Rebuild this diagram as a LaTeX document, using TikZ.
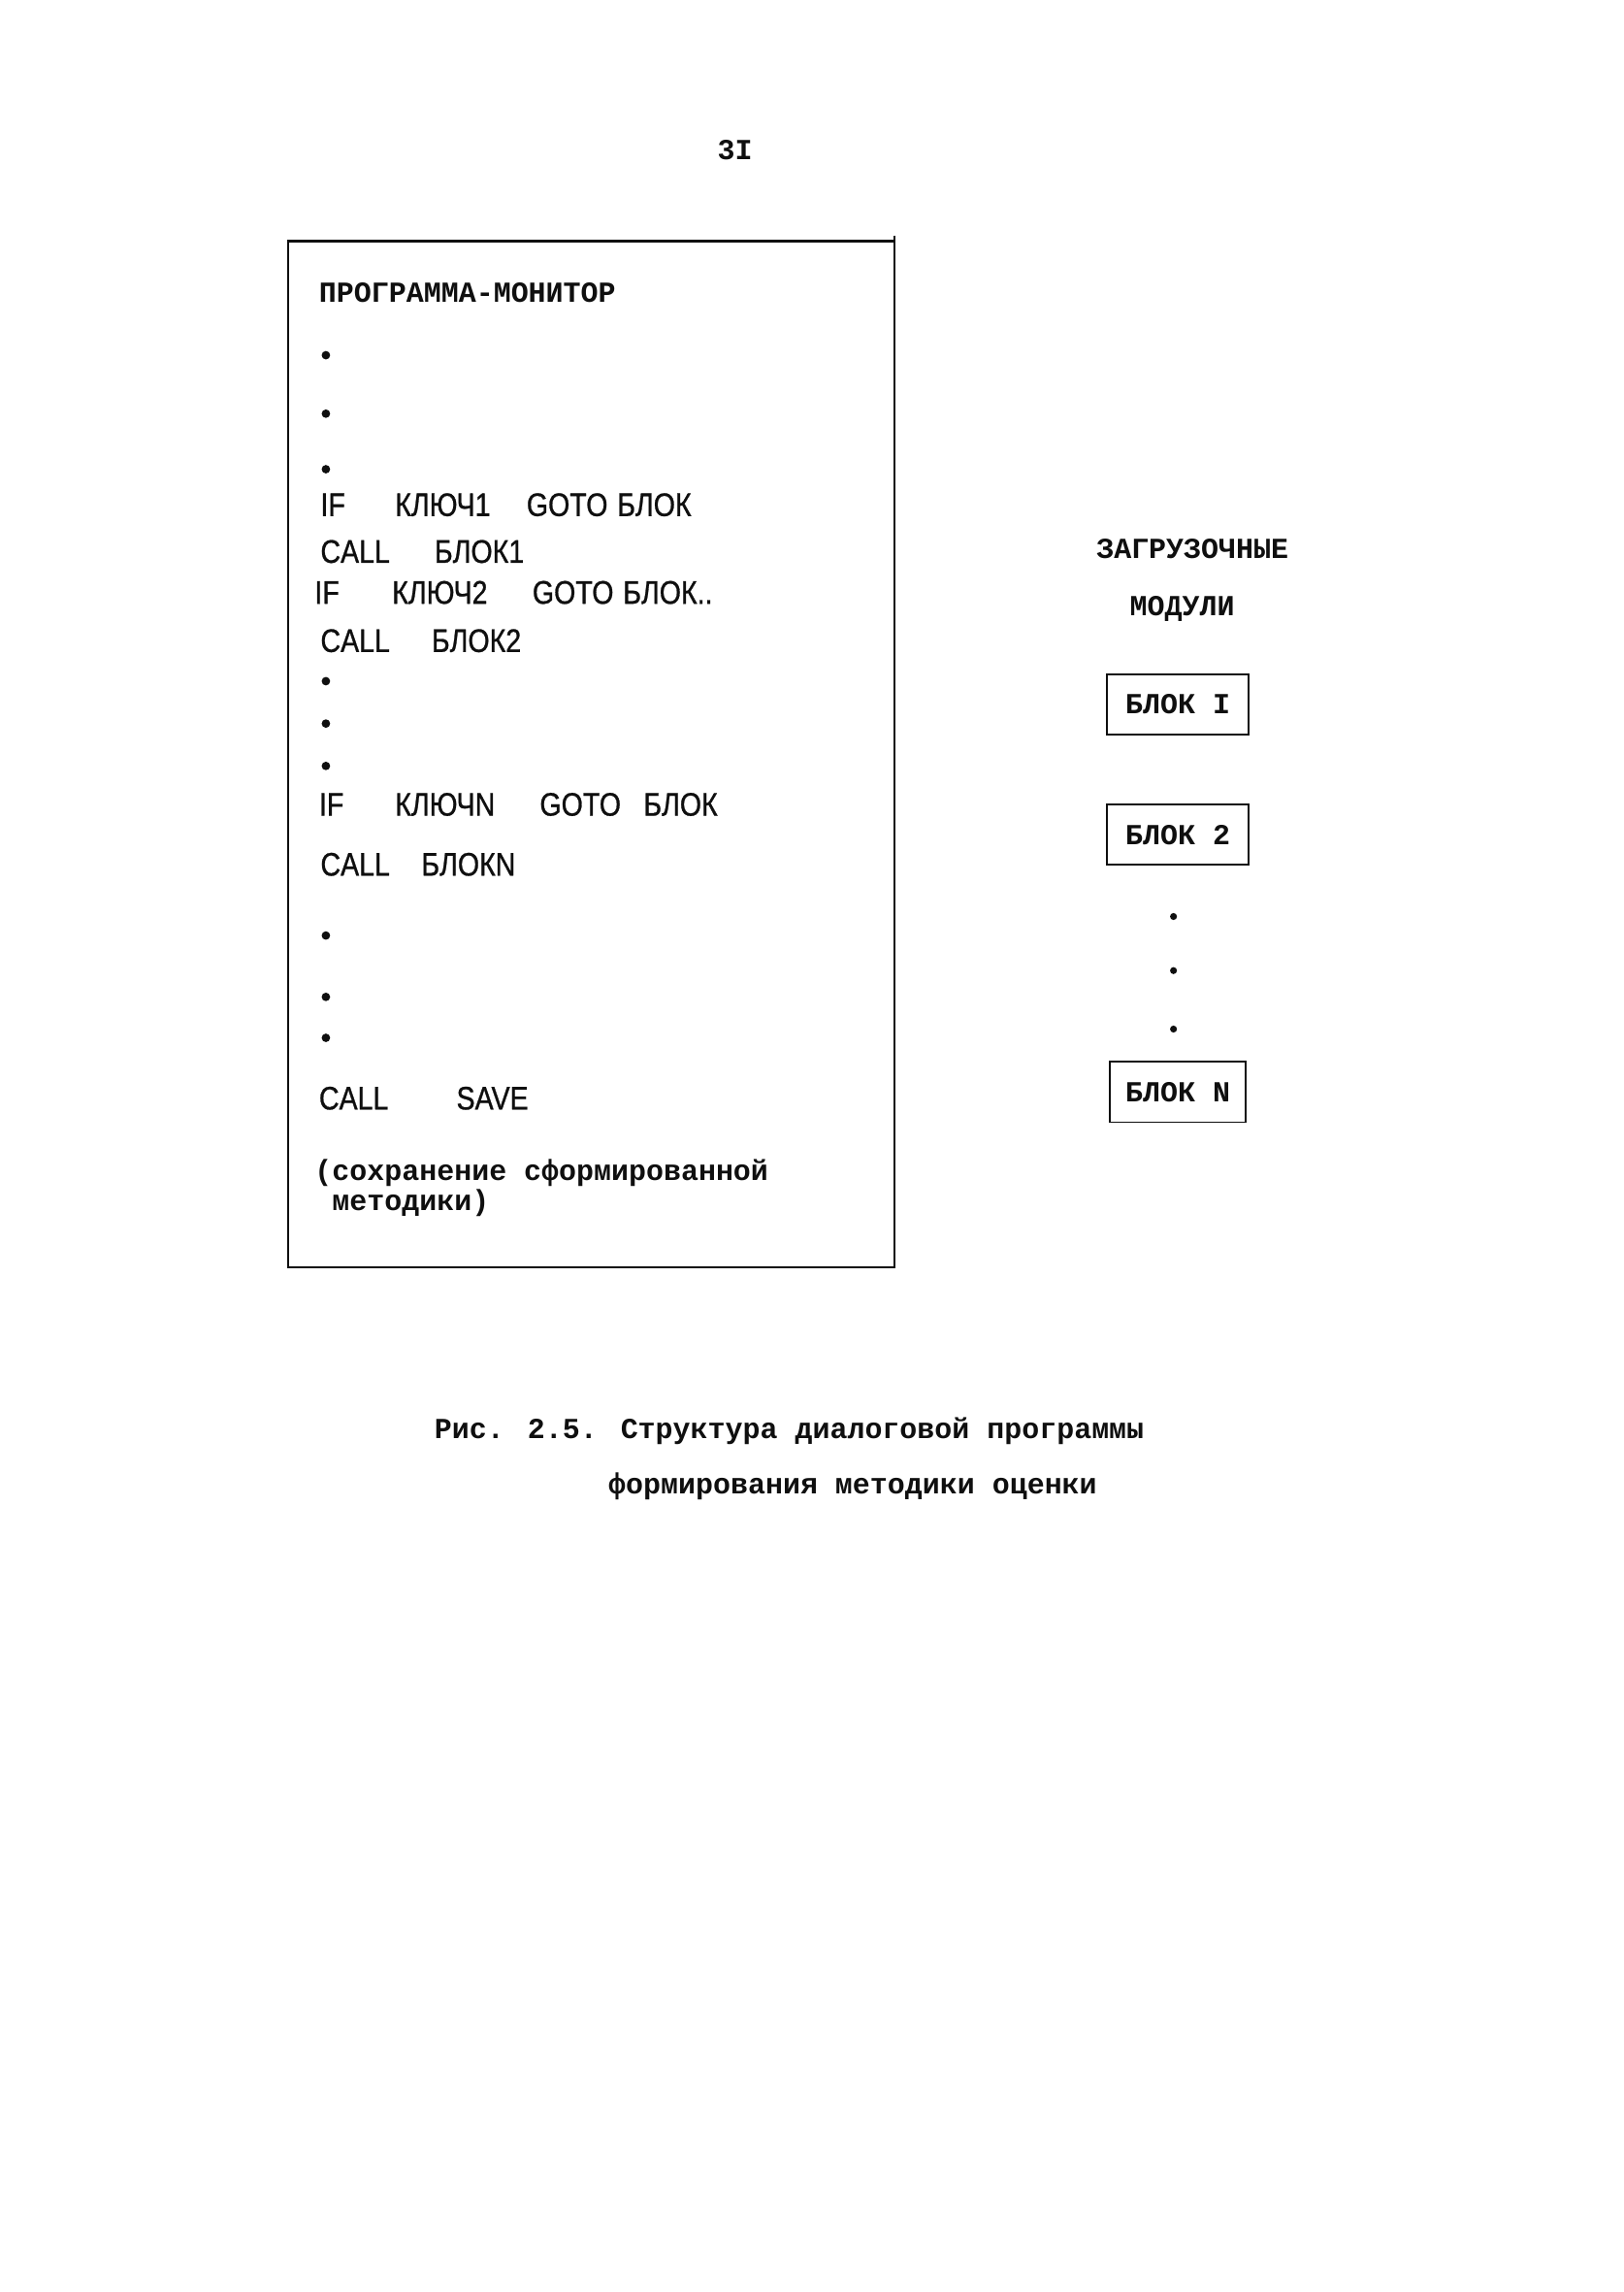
\documentclass[tikz,border=0pt]{standalone}
\usepackage{fontspec}
\usepackage{tikz}
\usetikzlibrary{positioning}
\usepackage{xcolor}
\newfontfamily\typefont{Liberation Mono}
\newfontfamily\handfont[FakeStretch=0.85,FakeBold=0.8]{Liberation Sans}
\definecolor{inkblack}{RGB}{15,15,15}

\begin{document}
\begin{tikzpicture}[x=0.18902mm,y=-0.18902mm,
  mono/.style={anchor=base west,inner sep=0pt,text=inkblack,
    font=\typefont\bfseries\fontsize{10.7}{10.9}\selectfont},
  hand/.style={anchor=base west,inner sep=0pt,text=inkblack,
    font=\handfont\fontsize{12}{14}\selectfont},
  blk/.style={draw=inkblack,line width=0.6pt,minimum width=18.3mm,
    minimum height=7.8mm,inner sep=0pt,text=inkblack,
    font=\typefont\bfseries\fontsize{10.7}{10.9}\selectfont}]
\useasboundingbox (0,0) rectangle (1111,1568);
\node[mono,anchor=base] (pagenum) at (503,109) {3I};
% monitor program frame
\draw[draw=inkblack,line width=0.8pt] (612,161) -- (612,867) -- (197,867)
  -- (197,165) -- (612,165);
\node[mono] (montitle) at (218,207) {ПРОГРАММА-МОНИТОР};
\foreach \y in {243,283,321,466,495,524,640,682,710}
  \fill[inkblack] (223,\y) circle (0.55mm);
\foreach \x/\w in {219/IF,270/КЛЮЧ1,360/GOTO,422/БЛОК}
  \node[hand] (ifa\x) at (\x,353) {\w};
\foreach \x/\w in {219/CALL,297/БЛОК1}
  \node[hand] (calla\x) at (\x,385) {\w};
\foreach \x/\w in {215/IF,268/КЛЮЧ2,364/GOTO,426/БЛОК..}
  \node[hand] (ifb\x) at (\x,413) {\w};
\foreach \x/\w in {219/CALL,295/БЛОК2}
  \node[hand] (callb\x) at (\x,446) {\w};
\foreach \x/\w in {218/IF,270/КЛЮЧN,369/GOTO,440/БЛОК}
  \node[hand] (ifn\x) at (\x,558) {\w};
\foreach \x/\w in {219/CALL,288/БЛОКN}
  \node[hand] (calln\x) at (\x,599) {\w};
\foreach \x/\w in {218/CALL,312/SAVE}
  \node[hand] (save\x) at (\x,759) {\w};
\node[mono,align=left] (savenote) at (215,828)
  {(сохранение сформированной\\\hspace*{0.6em}методики)};
% load modules
\node[mono,anchor=base] (modtitle) at (816,382) {ЗАГРУЗОЧНЫЕ};
\node[mono,anchor=base] (modsub) at (809,421) {МОДУЛИ};
\node[blk] (blk1) at (806,482) {БЛОК I};
\node[blk] (blk2) at (806,571) {БЛОК 2};
\node[blk,minimum width=17.6mm] (blkn) at (806,747) {БЛОК N};
\foreach \y in {627,664,704}
  \fill[inkblack] (803,\y) circle (0.45mm);
% caption
\node[mono] (capa) at (297,984) {Рис. 2.5. Структура диалоговой программы};
\node[mono] (capb) at (416,1022) {формирования методики оценки};
\end{tikzpicture}
\end{document}
